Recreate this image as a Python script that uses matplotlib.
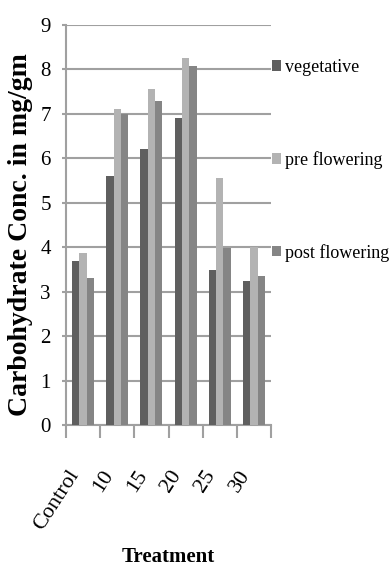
import matplotlib
matplotlib.use("Agg")
import matplotlib.pyplot as plt
import matplotlib.transforms as mtransforms
import numpy as np

categories = ["Control", "10", "15", "20", "25", "30"]
series_names = ["vegetative", "pre flowering", "post flowering"]
vegetative = [3.68, 5.6, 6.2, 6.9, 3.48, 3.23]
pre_flowering = [3.88, 7.1, 7.56, 8.26, 5.55, 4.0]
post_flowering = [3.3, 7.0, 7.28, 8.07, 3.98, 3.35]
y_ticks = [0, 1, 2, 3, 4, 5, 6, 7, 8, 9]

colors = ["#5f5f5f", "#b3b3b3", "#858585"]
plt.rcParams['font.family'] = ['Liberation Serif', 'DejaVu Serif']

fig = plt.figure(figsize=(3.9, 5.73), dpi=100)
ax = fig.add_axes([66/390, 1 - 425/573, (271-66)/390, (425-25)/573])

x = np.arange(len(categories))
w = 0.215
for i, (vals, name) in enumerate(zip([vegetative, pre_flowering, post_flowering], series_names)):
    ax.bar(x + (i - 1) * w, vals, width=w, color=colors[i], label=name, zorder=3)

ax.set_xlim(-0.5, len(categories) - 0.5)
ax.set_ylim(0, 9)
ax.set_yticks(y_ticks)
ax.yaxis.grid(True, color="#a0a0a0", linewidth=1.5, zorder=0)
ax.set_axisbelow(True)
for s in ["top", "right"]:
    ax.spines[s].set_visible(False)
for s in ["left", "bottom"]:
    ax.spines[s].set_color("#a0a0a0")
    ax.spines[s].set_linewidth(1.5)

ax.set_xticks(x)
ax.set_xticklabels(categories, rotation=57, ha="right", va="top", fontsize=16,
                   rotation_mode="default")
offset = mtransforms.ScaledTranslation(6/100, -3/100, fig.dpi_scale_trans)
for lab in ax.get_xticklabels():
    lab.set_transform(lab.get_transform() + offset)
ax.tick_params(axis="x", which="major", length=0, pad=30)
ax.set_xticks(np.arange(-0.5, len(categories)), minor=True)
ax.tick_params(axis="x", which="minor", length=9, color="#a0a0a0", width=1.5)
ax.tick_params(axis="y", length=3, color="#a0a0a0", width=1.5, labelsize=15, pad=8)

ax.set_ylabel("Carbohydrate Conc. in mg/gm", fontsize=20, fontweight="bold")
ax.yaxis.set_label_coords(-0.16, 0.475)
ax.set_xlabel("Treatment", fontsize=15, fontweight="bold")
ax.xaxis.set_label_coords(0.5, -0.305)

fig.legend(loc="upper left", bbox_to_anchor=(272/390, 1 - 59/573), frameon=False,
           fontsize=13, handlelength=0.5, handleheight=0.5, handletextpad=0.2,
           labelspacing=4.15, borderaxespad=0, borderpad=0)

fig.savefig("out.png", dpi=100)
